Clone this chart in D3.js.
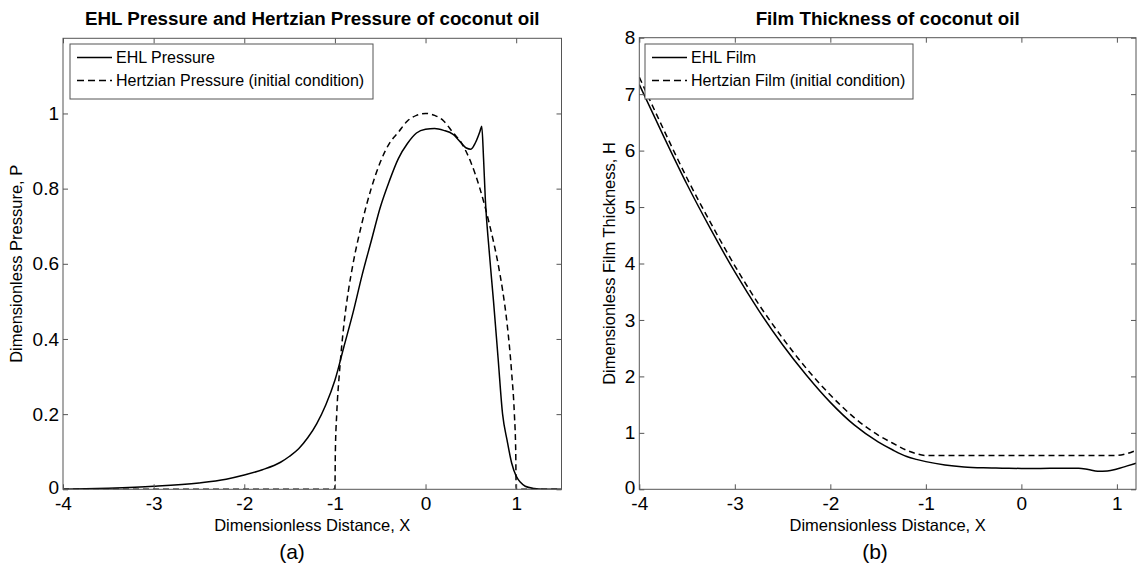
<!DOCTYPE html>
<html>
<head>
<meta charset="utf-8">
<script src="https://cdn.jsdelivr.net/npm/d3@7"></script>
<style>
  body { margin: 0; background: #fff; }
  svg { display: block; }
  text { font-family: "Liberation Sans", Arial, sans-serif; fill: #000; }
</style>
</head>
<body>
<svg id="fig" width="1137" height="569"></svg>
<script>
// values

// (a) pressure
const pressureX = [-4, -3.5, -3, -2.5, -2.2, -2, -1.8, -1.6, -1.5, -1.4, -1.3, -1.2, -1.1, -1.0,
  -0.9, -0.8, -0.7, -0.6, -0.5, -0.4, -0.3, -0.2, -0.1, 0, 0.1, 0.2, 0.3, 0.4, 0.45, 0.5,
  0.55, 0.6, 0.62, 0.64, 0.66, 0.7, 0.75, 0.8, 0.85, 0.9, 0.95, 1.0, 1.05, 1.1, 1.2, 1.3, 1.5];
const ehlPressure = [0, 0.003, 0.008, 0.017, 0.027, 0.038, 0.052, 0.072, 0.088, 0.108, 0.137, 0.175, 0.225, 0.29,
  0.38, 0.47, 0.57, 0.66, 0.75, 0.82, 0.88, 0.92, 0.948, 0.958, 0.96, 0.955, 0.945, 0.92, 0.908, 0.905,
  0.922, 0.952, 0.966, 0.88, 0.77, 0.64, 0.50, 0.35, 0.20, 0.13, 0.07, 0.035, 0.018, 0.008, 0.002, 0, 0];

const hertzX = [-4, -1.0, -0.995, -0.98, -0.95, -0.9, -0.85, -0.8, -0.7, -0.6, -0.5, -0.4, -0.3, -0.2, -0.1,
  0, 0.1, 0.2, 0.3, 0.4, 0.5, 0.6, 0.7, 0.8, 0.85, 0.9, 0.95, 0.98, 0.995, 1.0, 1.5];
const hertzPressure = [0, 0, 0.10, 0.20, 0.31, 0.44, 0.53, 0.60, 0.71, 0.80, 0.87, 0.92, 0.95, 0.98, 0.995,
  1.0, 0.995, 0.98, 0.95, 0.92, 0.87, 0.80, 0.71, 0.60, 0.53, 0.44, 0.31, 0.20, 0.10, 0, 0];

// (b) film thickness
const filmX = [-4, -3.75, -3.5, -3.25, -3, -2.75, -2.5, -2.25, -2, -1.75, -1.5, -1.35, -1.2, -1.1, -1.0,
  -0.8, -0.6, -0.4, -0.2, 0, 0.2, 0.4, 0.6, 0.7, 0.8, 0.9, 1.0, 1.1, 1.2];
const ehlFilm = [7.17, 6.27, 5.40, 4.60, 3.85, 3.17, 2.56, 2.02, 1.54, 1.14, 0.84, 0.70, 0.58, 0.53, 0.49,
  0.43, 0.395, 0.38, 0.375, 0.37, 0.37, 0.375, 0.375, 0.35, 0.32, 0.325, 0.36, 0.41, 0.46];
const hertzFilm = [7.30, 6.39, 5.51, 4.71, 3.96, 3.28, 2.68, 2.14, 1.67, 1.27, 0.96, 0.82, 0.69, 0.63, 0.60,
  0.60, 0.60, 0.60, 0.60, 0.60, 0.60, 0.60, 0.60, 0.60, 0.60, 0.60, 0.60, 0.63, 0.69];

const pressureTicksY = [0, 0.2, 0.4, 0.6, 0.8, 1];
const pressureTicksX = [-4, -3, -2, -1, 0, 1];
const filmTicksY = [0, 1, 2, 3, 4, 5, 6, 7, 8];
const filmTicksX = [-4, -3, -2, -1, 0, 1];

const svg = d3.select('#fig');
const axisColor = '#555';
const dash = '6,4';
// matlab prints a plain hyphen, not the unicode minus d3 uses
const plain = d => String(d);

function drawPanel(p) {
  const x = d3.scaleLinear().domain(p.xDomain).range([p.left, p.right]);
  const y = d3.scaleLinear().domain(p.yDomain).range([p.bottom, p.top]);
  const g = svg.append('g');

  g.append('clipPath').attr('id', p.id + '-clip')
    .append('rect')
    .attr('x', p.left).attr('y', p.top)
    .attr('width', p.right - p.left).attr('height', p.bottom - p.top);

  // curves
  const line = d3.line()
    .x(d => x(d[0]))
    .y(d => y(d[1]))
    .curve(d3.curveMonotoneX);

  p.series.forEach(s => {
    g.append('path')
      .datum(d3.zip(s.x, s.y))
      .attr('clip-path', `url(#${p.id}-clip)`)
      .attr('d', line)
      .attr('fill', 'none')
      .attr('stroke', '#000')
      .attr('stroke-width', 1.5)
      .attr('stroke-dasharray', s.dashed ? dash : null);
  });

  // ticks on all four sides, pointing inward (matlab box)
  const tick = 5;
  const bottomAxis = d3.axisBottom(x).tickValues(p.xTicks).tickSize(-tick).tickPadding(7)
    .tickFormat(plain);
  const topAxis = d3.axisTop(x).tickValues(p.xTicks).tickSize(-tick).tickFormat('');
  const leftAxis = d3.axisLeft(y).tickValues(p.yTicks).tickSize(-tick).tickPadding(4)
    .tickFormat(plain);
  const rightAxis = d3.axisRight(y).tickValues(p.yTicks).tickSize(-tick).tickFormat('');

  const styleAxis = sel => {
    sel.select('.domain').remove();
    sel.selectAll('.tick line').attr('stroke', axisColor);
    sel.selectAll('.tick text')
      .attr('font-family', '"Liberation Sans", Arial, sans-serif')
      .attr('font-size', 19)
      .attr('fill', '#000');
  };

  g.append('g').attr('transform', `translate(0,${p.bottom})`).call(bottomAxis).call(styleAxis);
  g.append('g').attr('transform', `translate(0,${p.top})`).call(topAxis).call(styleAxis);
  g.append('g').attr('transform', `translate(${p.left},0)`).call(leftAxis).call(styleAxis)
    .selectAll('.tick text').filter(d => d === 0).attr('dy', '0.2em');
  g.append('g').attr('transform', `translate(${p.right},0)`).call(rightAxis).call(styleAxis);

  g.append('rect')
    .attr('x', p.left).attr('y', p.top)
    .attr('width', p.right - p.left).attr('height', p.bottom - p.top)
    .attr('fill', 'none').attr('stroke', axisColor).attr('stroke-width', 1);

  // legend
  const lg = p.legend;
  g.append('rect')
    .attr('x', lg.x).attr('y', lg.y).attr('width', lg.w).attr('height', lg.h)
    .attr('fill', '#fff').attr('stroke', axisColor).attr('stroke-width', 1);
  p.series.forEach((s, i) => {
    const ry = lg.y + 13.5 + i * 23;
    g.append('line')
      .attr('x1', lg.x + 7).attr('x2', lg.x + 42)
      .attr('y1', ry).attr('y2', ry)
      .attr('stroke', '#000').attr('stroke-width', 1.5)
      .attr('stroke-dasharray', s.dashed ? '7,4' : null);
    g.append('text')
      .attr('x', lg.x + 46).attr('y', ry + 5.5)
      .attr('font-size', 16)
      .text(s.label);
  });

  const cx = (p.left + p.right) / 2;
  g.append('text')
    .attr('x', cx).attr('y', 24.5)
    .attr('text-anchor', 'middle')
    .attr('font-size', 18.8).attr('font-weight', 'bold')
    .text(p.title);

  g.append('text')
    .attr('x', cx).attr('y', 531)
    .attr('text-anchor', 'middle')
    .attr('font-size', 16.5)
    .text('Dimensionless Distance, X');

  g.append('text')
    .attr('transform', `translate(${p.yLabelX},${(p.top + p.bottom) / 2}) rotate(-90)`)
    .attr('text-anchor', 'middle')
    .attr('font-size', 16.5)
    .text(p.yLabel);

  g.append('text')
    .attr('x', p.capX).attr('y', 559)
    .attr('text-anchor', 'middle')
    .attr('font-family', '"Open Sans", "Noto Sans", sans-serif')
    .attr('font-size', 21)
    .text(p.caption);
}

drawPanel({
  id: 'pa',
  left: 63, right: 561.5, top: 38.3, bottom: 489.3,
  xDomain: [-4, 1.5], yDomain: [0, 1.2],
  xTicks: pressureTicksX, yTicks: pressureTicksY,
  title: 'EHL Pressure and Hertzian Pressure of coconut oil',
  yLabel: 'Dimensionless Pressure, P', yLabelX: 22,
  caption: '(a)', capX: 292,
  legend: { x: 70, y: 44, w: 303, h: 55 },
  series: [
    { label: 'EHL Pressure', x: pressureX, y: ehlPressure, dashed: false },
    { label: 'Hertzian Pressure (initial condition)', x: hertzX, y: hertzPressure, dashed: true }
  ]
});

drawPanel({
  id: 'pb',
  left: 639.3, right: 1136, top: 37.7, bottom: 489.3,
  xDomain: [-4, 1.2], yDomain: [0, 8],
  xTicks: filmTicksX, yTicks: filmTicksY,
  title: 'Film Thickness of coconut oil',
  yLabel: 'Dimensionless Film Thickness, H', yLabelX: 615,
  caption: '(b)', capX: 875,
  legend: { x: 645, y: 44, w: 268, h: 55 },
  series: [
    { label: 'EHL Film', x: filmX, y: ehlFilm, dashed: false },
    { label: 'Hertzian Film (initial condition)', x: filmX, y: hertzFilm, dashed: true }
  ]
});
</script>
</body>
</html>
